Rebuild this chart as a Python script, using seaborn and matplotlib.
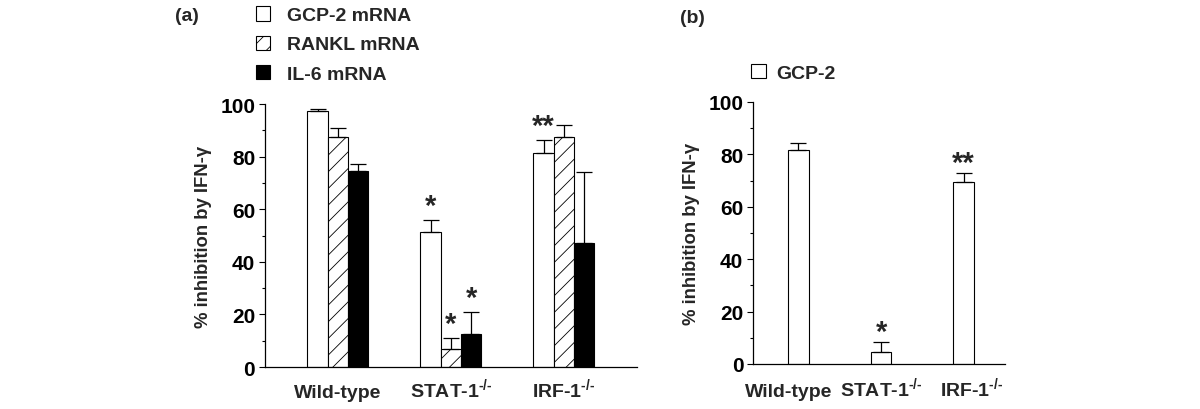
import matplotlib
matplotlib.use("Agg")
import matplotlib.pyplot as plt
import matplotlib.transforms as mtrans
import seaborn as sns
import pandas as pd
import numpy as np
from matplotlib.patches import Patch
from matplotlib.ticker import AutoMinorLocator

sns.set_style("ticks")
plt.rcParams['font.family'] = ['Liberation Sans', 'DejaVu Sans']
plt.rcParams['font.weight'] = 'bold'
plt.rcParams['mathtext.fontset'] = 'custom'
plt.rcParams['mathtext.rm'] = 'Liberation Sans'
plt.rcParams['hatch.linewidth'] = 0.6

# ---- data ----
genotypes = ["Wild-type", r"STAT-1$^{\text{-/-}}$", r"IRF-1$^{\text{-/-}}$"]
genes_a = ["GCP-2 mRNA", "RANKL mRNA", "IL-6 mRNA"]
gcp2_mrna = [97.5, 51.5, 81.5]
gcp2_mrna_err = [0.5, 4.5, 5.0]
rankl_mrna = [87.5, 7.0, 87.5]
rankl_mrna_err = [3.5, 4.0, 4.5]
il6_mrna = [74.5, 12.5, 47.0]
il6_mrna_err = [2.5, 8.5, 27.0]
# significance marks for panel (a): (gene index, genotype index, label)
sig_a = [(0, 1, "*"), (1, 1, "*"), (2, 1, "*"), (0, 2, "**")]

gcp2_protein = [81.5, 4.5, 69.5]
gcp2_protein_err = [3.0, 4.0, 3.5]
sig_b = [(1, "*"), (2, "**")]

df_a = pd.DataFrame({
    "genotype": genotypes * 3,
    "gene": [g for g in genes_a for _ in genotypes],
    "value": gcp2_mrna + rankl_mrna + il6_mrna,
})
errs_a = [gcp2_mrna_err, rankl_mrna_err, il6_mrna_err]
df_b = pd.DataFrame({"genotype": genotypes, "value": gcp2_protein})

FS = 14
fig = plt.figure(figsize=(12, 4.1), dpi=100)
ax_a = fig.add_axes([0.2208, 0.1024, 0.31, 0.6415])
ax_b = fig.add_axes([0.6275, 0.1098, 0.21, 0.639])

# ---- panel (a) ----
sns.barplot(data=df_a, x="genotype", y="value", hue="gene", ax=ax_a,
            palette=["white", "white", "black"], width=0.54, gap=0,
            legend=False, errorbar=None, saturation=1)
hatches = [None, "//", None]
bar_conts = list(ax_a.containers)
for i, cont in enumerate(bar_conts):
    xs, tops = [], []
    for p in cont.patches:
        p.set_edgecolor("black")
        p.set_linewidth(0.8)
        if hatches[i]:
            p.set_hatch(hatches[i])
        xs.append(p.get_x() + p.get_width() / 2)
        tops.append(p.get_height())
    ax_a.errorbar(xs, tops, yerr=[np.zeros(len(xs)), errs_a[i]], fmt="none",
                  ecolor="black", elinewidth=0.9, capsize=5.5, capthick=0.9,
                  clip_on=False, zorder=3)
    for gi, ti, lab in sig_a:
        if gi == i:
            ax_a.text(xs[ti], tops[ti] + errs_a[i][ti], lab, ha="center",
                      va="bottom", fontsize=21, fontweight="bold")

# ---- panel (b) ----
sns.barplot(data=df_b, x="genotype", y="value", ax=ax_b, color="white",
            width=0.25, errorbar=None, saturation=1)
xs_b, tops_b = [], []
for p in list(ax_b.patches):
    p.set_edgecolor("black")
    p.set_linewidth(0.8)
    xs_b.append(p.get_x() + p.get_width() / 2)
    tops_b.append(p.get_height())
ax_b.errorbar(xs_b, tops_b, yerr=[np.zeros(3), gcp2_protein_err], fmt="none",
              ecolor="black", elinewidth=0.9, capsize=5.5, capthick=0.9,
              clip_on=False, zorder=3)
for ti, lab in sig_b:
    ax_b.text(xs_b[ti], tops_b[ti] + gcp2_protein_err[ti] - 1.5, lab,
              ha="center", va="bottom", fontsize=21, fontweight="bold")

for ax, xl, xpad in [(ax_a, (-0.646, 2.646), 21.5), (ax_b, (-0.55, 2.5), 23)]:
    ax.set_xlim(*xl)
    ax.set_ylim(0, 100)
    ax.set_yticks([0, 20, 40, 60, 80, 100])
    ax.yaxis.set_minor_locator(AutoMinorLocator(2))
    ax.set_xlabel("")
    ax.set_ylabel("% inhibition by IFN-γ", fontsize=13.3, fontweight="bold",
                  labelpad=6)
    sns.despine(ax=ax)
    for s in ["left", "bottom"]:
        ax.spines[s].set_linewidth(0.9)
        ax.spines[s].set_color("black")
    ax.tick_params(axis="y", which="major", length=4, width=0.8,
                   labelsize=15, colors="black", pad=3)
    ax.tick_params(axis="y", which="minor", length=2.5, width=0.8,
                   colors="black")
    ax.tick_params(axis="x", length=0, labelsize=FS, pad=xpad)
    for t in ax.get_xticklabels() + ax.get_yticklabels():
        t.set_fontweight("bold")
    for t in ax.get_xticklabels():
        t.set_verticalalignment("baseline")

# spread panel (b) category labels apart as in the original
for t, dx in zip(ax_b.get_xticklabels(), [-0.10, 0.0, 0.08]):
    t.set_transform(t.get_transform() +
                    mtrans.ScaledTranslation(dx, 0, fig.dpi_scale_trans))

# ---- legends ----
handles_a = [Patch(facecolor="white", edgecolor="black", lw=0.8),
             Patch(facecolor="white", edgecolor="black", lw=0.8, hatch="//"),
             Patch(facecolor="black", edgecolor="black", lw=0.8)]
fig.legend(handles_a, genes_a, loc="upper left", bbox_to_anchor=(0.213, 0.982),
           frameon=False, handlelength=0.75, handleheight=0.75,
           handletextpad=0.85, labelspacing=0.58, borderpad=0, borderaxespad=0,
           prop={"weight": "bold", "size": FS})
fig.legend([Patch(facecolor="white", edgecolor="black", lw=0.8)], ["GCP-2"],
           loc="upper left", bbox_to_anchor=(0.626, 0.842), frameon=False,
           handlelength=0.75, handleheight=0.75, handletextpad=0.55,
           borderpad=0, borderaxespad=0, prop={"weight": "bold", "size": FS})

fig.text(0.146, 0.96, "(a)", fontsize=FS, fontweight="bold", va="center")
fig.text(0.567, 0.955, "(b)", fontsize=FS, fontweight="bold", va="center")

fig.savefig("out.png", dpi=100)
